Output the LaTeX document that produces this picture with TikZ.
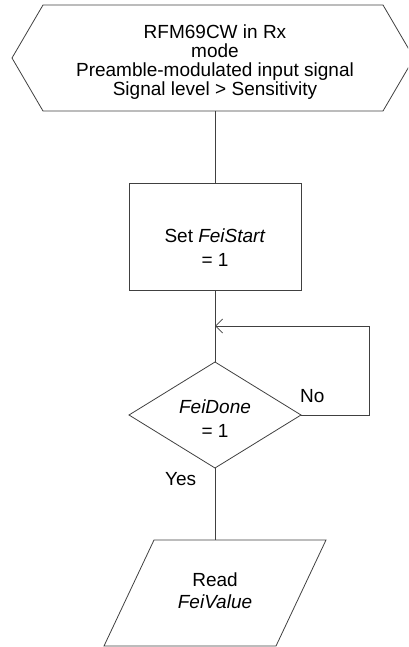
\documentclass[tikz,border=0pt]{standalone}
\usepackage{fontspec}
\setmainfont{Liberation Sans}
\usetikzlibrary{arrows.meta}
\begin{document}
\begin{tikzpicture}[x=1pt,y=-1pt,
  shapeline/.style={draw=black!75, line width=0.8pt, line join=miter},
  conn/.style={draw=black!75, line width=0.8pt},
  txt/.style={inner sep=0pt, align=center, anchor=north, font=\fontsize{19}{#1}\selectfont},
  lbl/.style={inner sep=0pt, anchor=north west, font=\fontsize{19}{20}\selectfont}]
\useasboundingbox (0,0) rectangle (408,647);
\clip (0,0) rectangle (408,647);
% named points
\coordinate (hexS) at (215,111);
\coordinate (boxN) at (215,183);
\coordinate (boxS) at (215,290);
\coordinate (dN) at (215,362);
\coordinate (dE) at (301,415);
\coordinate (dS) at (215,468);
\coordinate (pN) at (215,540);
\coordinate (loopBR) at (369,415);
\coordinate (loopTR) at (369,326);
\coordinate (merge) at (215,326);
% shapes
\draw[shapeline] (43,5) -- (383,5) -- (414,58) -- (383,111) -- (43,111) -- (12,58) -- cycle;
\draw[shapeline] (129,183) rectangle (301,290);
\draw[shapeline] (dN) -- (dE) -- (dS) -- (129,415) -- cycle;
\draw[shapeline] (154,540) -- (326,540) -- (276,646) -- (104,646) -- cycle;
% connectors
\draw[conn] (hexS) -- (boxN);
\draw[conn] (boxS) -- (dN);
\draw[conn,-{Straight Barb[length=7pt,width=14pt]}] (dE) -- (loopBR) -- (loopTR) -- (merge);
\draw[conn] (dS) -- (pN);
% texts
\node[txt=19] (t1) at (215,24.5) {RFM69CW in Rx\\mode\\Preamble-modulated input signal\\Signal level > Sensitivity};
\node[txt=23.6] (t2) at (215,229) {Set \textit{FeiStart}\\= 1};
\node[txt=23.5] (t3) at (215,400) {\textit{FeiDone}\\= 1};
\node[txt=22] (t4) at (215,573) {Read\\\textit{FeiValue}};
\node[lbl] (yes) at (165,472.5) {Yes};
\node[lbl] (no) at (300,389.5) {No};
\end{tikzpicture}
\end{document}
